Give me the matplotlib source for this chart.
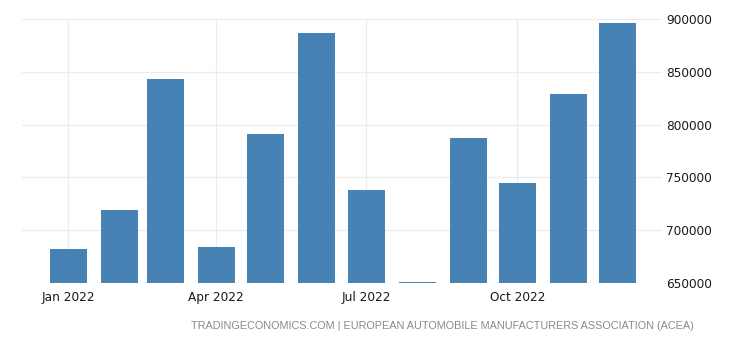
import numpy as np
import pandas as pd
import matplotlib
matplotlib.use('Agg')
import matplotlib.pyplot as plt
import matplotlib.dates as mdates

# Monthly new car registrations, 2022
months = pd.date_range('2022-01-01', periods=12, freq='MS')
registrations = [682200, 719100, 843200, 684400, 791100, 886500,
                 738100, 650800, 787300, 744700, 829000, 896200]
y_ticks = [650000, 700000, 750000, 800000, 850000, 900000]
x_ticks = pd.to_datetime(['2022-01-01', '2022-04-01', '2022-07-01', '2022-10-01'])
x_tick_labels = ['Jan 2022', 'Apr 2022', 'Jul 2022', 'Oct 2022']
source = 'TRADINGECONOMICS.COM | EUROPEAN AUTOMOBILE MANUFACTURERS ASSOCIATION (ACEA)'

fig = plt.figure(figsize=(7.4, 3.45), dpi=100)
ax = fig.add_axes([0.030, 0.180, 0.865, 0.765])

ax.bar(months, registrations, width=22.5, color='#4682b4', zorder=2)

ax.set_ylim(650000, 900000)
ax.set_xlim(pd.Timestamp('2021-12-04'), pd.Timestamp('2022-12-28'))
ax.set_yticks(y_ticks)
ax.set_yticklabels([str(v) for v in y_ticks])
ax.set_xticks(mdates.date2num(x_ticks))
ax.set_xticklabels(x_tick_labels)

ax.yaxis.tick_right()
ax.tick_params(axis='both', length=0, labelsize=8.7, colors='#1a1a1a')
ax.tick_params(axis='y', pad=3)
ax.tick_params(axis='x', pad=6)
ax.grid(True, color='#ececec', linewidth=0.9, zorder=0)
ax.set_axisbelow(True)
for spine in ax.spines.values():
    spine.set_visible(False)

fig.text(0.937, 0.055, source, ha='right', va='center', fontsize=7.8,
         family='Liberation Sans', color='#8a8a8a')

fig.savefig('out.png', dpi=100)
